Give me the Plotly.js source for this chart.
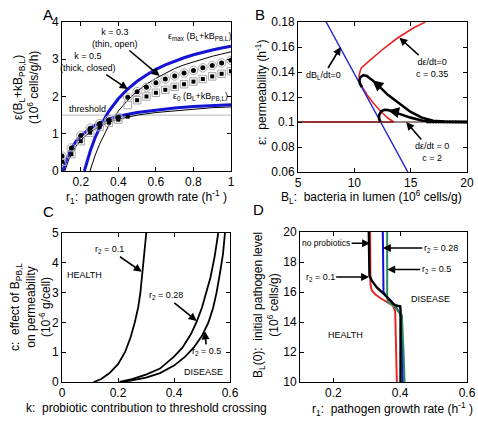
<!DOCTYPE html>
<html><head><meta charset="utf-8">
<script src="https://cdn.plot.ly/plotly-3.0.1.min.js"></script>
<style>html,body{margin:0;padding:0;background:#fff}#chart{width:478px;height:422px}</style>
</head><body><div id="chart"></div>
<script>
// ---------- Panel A ----------
const rThickMax = [0.219,0.23,0.25,0.275,0.3,0.35,0.4,0.45,0.5,0.55,0.6,0.65,0.7,0.75,0.8,0.85,0.9,0.95,1.0];
const eThickMax = [0,0.21,0.53,0.88,1.16,1.61,1.94,2.20,2.41,2.58,2.73,2.85,2.95,3.04,3.12,3.19,3.25,3.30,3.35];
const rThinMax = [0.249,0.26,0.275,0.3,0.35,0.4,0.45,0.5,0.55,0.6,0.65,0.7,0.75,0.8,0.85,0.9,0.95,1.0];
const eThinMax = [0,0.18,0.40,0.72,1.23,1.61,1.90,2.14,2.33,2.49,2.63,2.75,2.85,2.93,3.01,3.08,3.14,3.20];
const rThick0 = [0.105,0.11,0.12,0.135,0.15,0.175,0.2,0.25,0.3,0.35,0.4,0.5,0.6,0.7,0.8,0.9,1.0];
const eThick0 = [0,0.09,0.25,0.44,0.60,0.80,0.94,1.15,1.29,1.39,1.47,1.57,1.64,1.69,1.73,1.76,1.78];
const rThin0 = [0.115,0.12,0.135,0.15,0.175,0.2,0.25,0.3,0.35,0.4,0.5,0.6,0.7,0.8,0.9,1.0];
const eThin0 = [0,0.08,0.29,0.45,0.67,0.83,1.05,1.20,1.31,1.39,1.50,1.57,1.62,1.66,1.70,1.72];
const thresholdR = [0.1,1.0];
const thresholdE = [1.5,1.5];
const rCircle = [0.1,0.15,0.2,0.25,0.3,0.35,0.4,0.45,0.5,0.55,0.6,0.65,0.7,0.75,0.8,0.85,0.9,0.95,1.0];
const eCircle = [0.40,0.62,0.95,1.15,1.27,1.37,1.44,1.98,2.13,2.25,2.37,2.47,2.55,2.63,2.70,2.77,2.83,2.90,2.97];
const rSqClosed = [0.1,0.15,0.2,0.25,0.3,0.35,0.4,0.45,0.5,0.55,0.6,0.65,0.7,0.75,0.8,0.85,0.9,0.95,1.0];
const eSqClosed = [0.25,0.45,0.80,1.03,1.18,1.30,1.38,1.46,1.90,2.00,2.10,2.18,2.26,2.33,2.40,2.47,2.54,2.61,2.68];
const rSqOpen = [0.1,0.15,0.2,0.25,0.3,0.35,0.4,0.45,0.5,0.55,0.6,0.65,0.7,0.75,0.8,0.85,0.9,0.95,1.0];
const eSqOpen = [0.25,0.45,0.80,1.03,1.18,1.30,1.38,1.77,1.90,2.00,2.10,2.18,2.26,2.33,2.40,2.47,2.54,2.61,2.68];

// ---------- Panel B ----------
const blNullBL = [7.5,14.75];
const blNullE = [0.18,0.06];
const redUpperBL = [10.42,10.6,11.4,12.5,13.8,15.2,16.3];
const redUpperE = [0.1375,0.143,0.1495,0.158,0.167,0.175,0.18];
const redLowerBL = [10.42,10.45,10.7,11.1,11.7,12.4,13.0,13.5,5];
const redLowerE = [0.1375,0.133,0.128,0.122,0.115,0.108,0.103,0.1,0.1];
const c2NullBL = [5,20];
const c2NullE = [0.1,0.1];
const traj1BL = [20,19,18,17,16,15,14,13,12.2,11.6,11.1,10.8,10.55,10.45,10.5,10.67];
const traj1E = [0.1,0.1,0.1003,0.101,0.1035,0.108,0.1145,0.1215,0.1285,0.1335,0.1368,0.1375,0.136,0.1335,0.1305,0.128];
const traj2BL = [20,18,17,16,15,14,13.5,13.0,12.7,12.4,12.2,12.2,12.33];
const traj2E = [0.1,0.1,0.1002,0.1012,0.1035,0.1065,0.1083,0.1095,0.1098,0.1087,0.1055,0.1025,0.1];
const dotsBL = [16.5,16.75,17,17.25,17.5,17.75,18,18.25,18.5,18.75,19,19.25,19.5,19.75,20];
const dotsE = [0.1,0.1,0.1,0.1,0.1,0.1,0.1,0.1,0.1,0.1,0.1,0.1,0.1,0.1,0.1];

// ---------- Panel C ----------
const kR01 = [0.113,0.14,0.17,0.2,0.225,0.245,0.26,0.272,0.28,0.288,0.295,0.301];
const cR01 = [0,0.1,0.3,0.6,1.0,1.5,2.0,2.5,3.0,3.7,4.3,5.0];
const kR028 = [0.205,0.25,0.3,0.35,0.4,0.43,0.46,0.48,0.5,0.515,0.53,0.545,0.558];
const cR028 = [0,0.1,0.25,0.45,0.85,1.15,1.6,2.0,2.5,3.0,3.5,4.2,5.0];
const kR05 = [0.22,0.3,0.35,0.4,0.44,0.47,0.5,0.523,0.54,0.552,0.565,0.575,0.582];
const cR05 = [0,0.15,0.3,0.55,0.85,1.15,1.55,2.0,2.5,3.0,3.7,4.3,5.0];

// ---------- Panel D ----------
const rRed = [0.31,0.31,0.311,0.315,0.325,0.34,0.36,0.378,0.385,0.388,0.39];
const bRed = [20,18,16.5,16.1,15.85,15.6,15.35,15.1,14.7,12,10];
const rBlue = [0.348,0.348,0.35,0.36,0.375,0.39,0.4,0.404,0.406,0.408];
const bBlue = [20,16.5,16.0,15.7,15.35,14.9,14.6,14.4,12,10];
const rGreen = [0.361,0.361,0.365,0.38,0.395,0.405,0.41,0.413];
const bGreen = [20,15.6,15.3,15.1,14.7,14.45,12,10];
const rBlack = [0.306,0.306,0.308,0.315,0.33,0.35,0.37,0.38,0.39,0.4,0.401,0.401];
const bBlack = [20,18,17.1,16.75,16.3,15.9,15.45,15.2,15.08,15.05,14.8,10];

const FONT = 'Liberation Sans, Arial, sans-serif';
const BLUE = '#1414d2', RED = '#e8262a', GREEN = '#2f8a5a', GRAYM = '#a8a8a8';

function ln(x, y, xa, ya, color, width) {
  return {x: x, y: y, xaxis: xa, yaxis: ya, type: 'scatter', mode: 'lines',
          line: {color: color, width: width}, showlegend: false, hoverinfo: 'skip'};
}
function mk(x, y, xa, ya, symbol, size, color, lw) {
  return {x: x, y: y, xaxis: xa, yaxis: ya, type: 'scatter', mode: 'markers',
          marker: {symbol: symbol, size: size, color: color, line: {color: color, width: lw || 0}},
          showlegend: false, hoverinfo: 'skip'};
}

const data = [
  // A
  ln(thresholdR, thresholdE, 'x', 'y', '#c8c8c8', 1.2),
  ln(rThinMax, eThinMax, 'x', 'y', '#000', 1),
  ln(rThin0, eThin0, 'x', 'y', '#000', 1),
  ln(rThickMax, eThickMax, 'x', 'y', BLUE, 3),
  ln(rThick0, eThick0, 'x', 'y', BLUE, 3),
  mk(rSqOpen, eSqOpen, 'x', 'y', 'square-open', 7.5, GRAYM, 1),
  mk(rCircle, eCircle, 'x', 'y', 'circle-open', 8.5, GRAYM, 1),
  mk(rSqClosed, eSqClosed, 'x', 'y', 'square', 4, '#000'),
  mk(rCircle, eCircle, 'x', 'y', 'circle', 5, '#000'),
  // B
  ln(redLowerBL, redLowerE, 'x2', 'y2', RED, 1.6),
  ln(c2NullBL, c2NullE, 'x2', 'y2', '#3a1010', 1),
  ln(redUpperBL, redUpperE, 'x2', 'y2', RED, 1.6),
  ln(blNullBL, blNullE, 'x2', 'y2', '#2020d0', 1.4),
  ln(traj1BL, traj1E, 'x2', 'y2', '#000', 2.6),
  ln(traj2BL, traj2E, 'x2', 'y2', '#000', 2.6),
  mk(dotsBL, dotsE, 'x2', 'y2', 'circle', 3, '#000'),
  // C
  ln(kR01, cR01, 'x3', 'y3', '#000', 1.8),
  ln(kR028, cR028, 'x3', 'y3', '#000', 1.8),
  ln(kR05, cR05, 'x3', 'y3', '#000', 1.8),
  // D
  ln(rRed, bRed, 'x4', 'y4', RED, 2),
  ln(rBlue, bBlue, 'x4', 'y4', '#1010e0', 2),
  ln(rGreen, bGreen, 'x4', 'y4', GREEN, 2),
  ln(rBlack, bBlack, 'x4', 'y4', '#000', 2.4)
];

function axis(domain, range, extra, anchor) {
  return Object.assign({domain: domain, range: range, anchor: anchor,
    showline: true, linecolor: '#000', linewidth: 1, mirror: 'ticks',
    ticks: 'inside', ticklen: 4, tickcolor: '#000', showgrid: false, zeroline: false,
    tickfont: {family: FONT, size: 12, color: '#000'}, fixedrange: true}, extra);
}

const W = 478, H = 422;
const px = v => v / W, py = v => 1 - v / H;

function label(x, y, text, opts) {
  return Object.assign({x: x, y: y, xref: 'paper', yref: 'paper', text: text, showarrow: false,
    xanchor: 'center', yanchor: 'middle', font: {family: FONT, size: 12, color: '#000'}}, opts || {});
}
function note(xa, ya, x, y, text, size) {
  return {x: x, y: y, xref: xa, yref: ya, text: text, showarrow: false,
    xanchor: 'center', yanchor: 'middle', font: {family: FONT, size: size || 9, color: '#000'}};
}
function arrow(xa, ya, x, y, ax, ay, text, size, aw) {
  return {x: x, y: y, xref: xa, yref: ya, ax: ax, ay: ay, text: text, showarrow: true,
    arrowhead: 2, arrowsize: 1, arrowwidth: aw || 1.6, arrowcolor: '#000', standoff: 0, startstandoff: 0,
    font: {family: FONT, size: size || 9, color: '#000'}};
}

const annotations = [
  // panel letters
  label(px(48), py(15), 'A', {font: {family: FONT, size: 15, color: '#000'}}),
  label(px(260), py(14), 'B', {font: {family: FONT, size: 15, color: '#000'}}),
  label(px(48), py(211), 'C', {font: {family: FONT, size: 15, color: '#000'}}),
  label(px(258), py(210), 'D', {font: {family: FONT, size: 15, color: '#000'}}),
  // axis titles
  label(px(26), py(88), 'ε(B<sub>L</sub>+kB<sub>PB,L</sub>)<br>(10<sup>6</sup> cells/g/h)', {textangle: -90}),
  label(px(146), py(197), 'r<sub>1</sub>:  pathogen growth rate (h<sup>-1</sup> )'),
  label(px(261), py(92), 'ε:  permeability (h<sup>-1</sup>)', {textangle: -90}),
  label(px(371), py(197), 'B<sub>L</sub>:  bacteria in lumen (10<sup>6</sup> cells/g)'),
  label(px(30), py(307), 'c:  effect of B<sub>PB,L</sub><br>on permeability<br>(10<sup>-6</sup> g/cell)', {textangle: -90}),
  label(px(146), py(408), 'k:  probiotic contribution to threshold crossing'),
  label(px(266), py(305), 'B<sub>L</sub>(0):  initial pathogen level<br>(10<sup>6</sup> cells/g)', {textangle: -90}),
  label(px(392), py(409), 'r<sub>1</sub>:  pathogen growth rate (h<sup>-1</sup> )'),
  // panel A notes
  arrow('x', 'y', 0.62, 2.55, -45, -38, 'k = 0.3<br>(thin, open)'),
  arrow('x', 'y', 0.45, 2.2, -40, -27, 'k = 0.5<br>(thick, closed)'),
  note('x', 'y', 0.83, 3.6, 'ε<sub>max</sub> (B<sub>L</sub>+kB<sub>PB,L</sub>)'),
  note('x', 'y', 0.835, 1.99, 'ε<sub>0</sub> (B<sub>L</sub>+kB<sub>PB,L</sub>)'),
  note('x', 'y', 0.238, 1.66, 'threshold'),
  // panel B notes
  arrow('x2', 'y2', 8.8, 0.16, -17, 28, 'dB<sub>L</sub>/dt=0'),
  arrow('x2', 'y2', 14.0, 0.1675, 33, 30, 'dε/dt=0<br>c = 0.35'),
  arrow('x2', 'y2', 14.6, 0.1, 26, 30, 'dε/dt = 0<br>c = 2'),
  arrow('x2', 'y2', 11.6, 0.1335, 9, 7.5, '', 9, 2.2),
  arrow('x2', 'y2', 13.0, 0.1095, 9, 2, '', 9, 2.2),
  // panel C notes
  arrow('x3', 'y3', 0.285, 3.7, -32, -22, 'r<sub>2</sub> = 0.1'),
  arrow('x3', 'y3', 0.481, 2.05, -31, -25, 'r<sub>2</sub> = 0.28'),
  arrow('x3', 'y3', 0.51, 1.7, 2, 20, 'r<sub>2</sub> = 0.5'),
  note('x3', 'y3', 0.0795, 3.6, 'HEALTH'),
  note('x3', 'y3', 0.507, 0.337, 'DISEASE'),
  // panel D notes
  arrow('x4', 'y4', 0.31, 19.25, -44, 0, 'no probiotics', 8.5),
  arrow('x4', 'y4', 0.307, 17.0, -49, 0, 'r<sub>2</sub> = 0.1'),
  arrow('x4', 'y4', 0.348, 18.93, 58, 0, 'r<sub>2</sub> = 0.28'),
  arrow('x4', 'y4', 0.361, 17.5, 49, 0, 'r<sub>2</sub> = 0.5'),
  note('x4', 'y4', 0.492, 15.56, 'DISEASE'),
  note('x4', 'y4', 0.237, 13.11, 'HEALTH')
];

const layout = {
  width: W, height: H,
  margin: {l: 0, r: 0, t: 0, b: 0},
  paper_bgcolor: '#fff', plot_bgcolor: '#fff',
  showlegend: false,
  font: {family: FONT, size: 12, color: '#000'},
  xaxis: axis([px(62), px(231)], [0.1, 1], {tick0: 0, dtick: 0.2}, 'y'),
  yaxis: axis([py(171), py(22)], [0, 4], {dtick: 1}, 'x'),
  xaxis2: axis([px(298), px(467)], [5, 20], {dtick: 5}, 'y2'),
  yaxis2: axis([py(172), py(22)], [0.06, 0.18], {dtick: 0.02}, 'x2'),
  xaxis3: axis([px(62), px(230)], [0, 0.6], {dtick: 0.2}, 'y3'),
  yaxis3: axis([py(382), py(233)], [0, 5], {dtick: 1}, 'x3'),
  xaxis4: axis([px(300), px(467)], [0.1, 0.6], {tick0: 0, dtick: 0.2}, 'y4'),
  yaxis4: axis([py(382), py(232)], [10, 20], {dtick: 2}, 'x4'),
  annotations: annotations
};

Plotly.newPlot('chart', data, layout, {staticPlot: true, displayModeBar: false});
</script>
</body></html>
